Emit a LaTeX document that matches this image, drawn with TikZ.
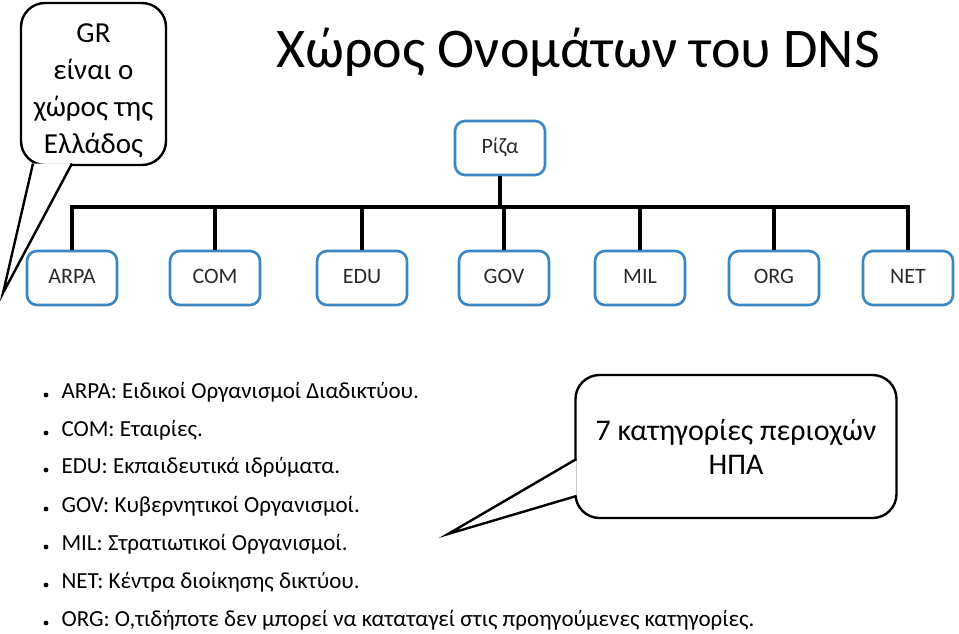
\documentclass[tikz,border=0pt]{standalone}
\usepackage{fontspec}
\setmainfont{Carlito}
\definecolor{boxblue}{HTML}{3A86C2}
\definecolor{labgray}{HTML}{2A2A2A}
\begin{document}
\begin{tikzpicture}[x=1pt,y=-1pt,
  dnsbox/.style={draw=boxblue, line width=2.6pt, rounded corners=10pt, fill=white,
    minimum width=90pt, minimum height=54pt, text=labgray, font=\fontsize{22}{24}\selectfont,
    text height=14pt, text depth=4pt},
  bus/.style={line width=3.5pt, black},
  callout/.style={draw, line width=2.4pt, rounded corners=24pt, fill=white, align=center},
  tail/.style={line width=2.4pt, line join=miter},
  bullet/.style={anchor=west, font=\fontsize{23}{26}\selectfont}
]
\useasboundingbox (0,0) rectangle (959,633);

% title
\node[font=\fontsize{56}{62}\selectfont] (title) at (578,52) {Χώρος Ονομάτων του DNS};

% tree
\node[dnsbox] (root) at (500,148) {Ρίζα};
\foreach \n/\x/\t in {arpa/72/ARPA, com/215/COM, edu/362/EDU, gov/504/GOV, mil/640/MIL, org/774/ORG, net/908/NET}{
  \node[dnsbox] (\n) at (\x,278) {\t};
}
\coordinate (busL) at (72,207);
\coordinate (busR) at (908,207);
\draw[bus] (root.south) -- (root.south |- busL);
\draw[bus, line cap=rect] (busL) -- (busR);
\foreach \n in {arpa,com,edu,gov,mil,org,net}{
  \draw[bus] (\n.north |- busL) -- (\n.north);
}

% GR callout
\node[callout, minimum width=145pt, minimum height=162pt, font=\fontsize{29}{37}\selectfont] (gr) at (93.5,84) {\rule{0pt}{32pt}GR\\είναι ο\\χώρος της\\Ελλάδος};
\coordinate (grA) at (33,163.5);
\coordinate (grB) at (72,163.5);
\coordinate (grtip) at (3,293);
\fill[white] (grA) -- (grB) -- (grtip) -- cycle;
\draw[tail] (grA) -- (grtip) -- (grB);

% USA callout
\node[callout, minimum width=321pt, minimum height=143pt, font=\fontsize{30}{34}\selectfont] (usa) at (736,446.5) {7 κατηγορίες περιοχών\\ΗΠΑ};
\coordinate (usA) at (576.5,459);
\coordinate (usB) at (576.5,496);
\coordinate (ustip) at (448,534);
\fill[white] (usA) -- (usB) -- (ustip) -- cycle;
\draw[tail] (usA) -- (ustip) -- (usB);

% bullet list
\foreach \y/\t/\nm in {
  392/{ARPA: Ειδικοί Οργανισμοί Διαδικτύου.}/b1,
  430/{COM: Εταιρίες.}/b2,
  467/{EDU: Εκπαιδευτικά ιδρύματα.}/b3,
  506/{GOV: Κυβερνητικοί Οργανισμοί.}/b4,
  544/{MIL: Στρατιωτικοί Οργανισμοί.}/b5,
  582/{NET: Κέντρα διοίκησης δικτύου.}/b6,
  620/{ORG: Ο,τιδήποτε δεν μπορεί να καταταγεί στις προηγούμενες κατηγορίες.}/b7}{
  \fill (46,\y+3) circle (2.4pt);
  \node[bullet] (\nm) at (58,\y) {\t};
}
\end{tikzpicture}
\end{document}
